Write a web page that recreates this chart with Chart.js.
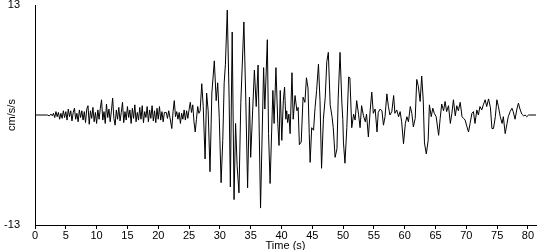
<!DOCTYPE html>
<html>
<head>
<meta charset="utf-8">
<script src="https://cdn.jsdelivr.net/npm/chart.js@4"></script>
<style>
  html, body { margin: 0; padding: 0; background: #fff; }
  #wrap { width: 550px; height: 250px; }
</style>
</head>
<body>
<div id="wrap"><canvas id="trace" width="550" height="250"></canvas></div>
<script>
// accelerogram (s, cm/s/s)
const times = [
  0, 2.0, 2.3, 2.6, 2.8,
  3.0, 3.2, 3.4, 3.6, 3.8, 4.0, 4.2, 4.4, 4.6, 4.8, 5.0,
  5.2, 5.4, 5.6, 5.8, 6.0, 6.2, 6.4, 6.6, 6.8, 7.0,
  7.2, 7.4, 7.6, 7.8, 8.0, 8.2, 8.4, 8.6, 8.8, 9.0,
  9.2, 9.4, 9.6, 9.8, 10.0, 10.2, 10.4, 10.6, 10.8, 11.0,
  11.2, 11.4, 11.6, 11.8, 12.0, 12.2, 12.4, 12.6, 12.8, 13.0,
  13.2, 13.4, 13.6, 13.8, 14.0, 14.2, 14.4, 14.6, 14.8, 15.0,
  15.2, 15.4, 15.6, 15.8, 16.0, 16.2, 16.4, 16.6, 16.8, 17.0,
  17.2, 17.4, 17.6, 17.8, 18.0, 18.2, 18.4, 18.6, 18.8, 19.0,
  19.2, 19.4, 19.6, 19.8, 20.0, 20.2, 20.4, 20.6, 20.8, 21.0,
  21.3, 21.5, 21.7, 21.9, 22.2, 22.4, 22.6, 22.8, 23.0, 23.2,
  23.4, 23.6, 23.8, 24.0, 24.2, 24.4, 24.6, 24.8, 25.0, 25.2,
  25.4, 25.6, 25.8, 26.0, 26.2, 26.4, 26.6, 26.8,
  27.06, 27.3, 27.6, 27.85, 28.1, 28.4, 28.7, 29.1, 29.4, 29.65,
  29.9, 30.2, 30.47, 30.7, 30.9, 31.2, 31.5, 31.7, 32.0, 32.3,
  32.55, 32.8, 33.1, 33.4, 33.9, 34.2, 34.5, 34.8, 35.0, 35.6,
  35.9, 36.2, 36.6, 37.1, 37.3, 37.7, 37.9, 38.15, 38.4, 38.6,
  38.8, 39.1, 39.4, 39.6, 39.8, 40.05, 40.3, 40.5, 40.7, 40.85,
  41.0, 41.2, 41.4, 41.7, 41.9, 42.2, 42.5, 42.7, 42.9, 43.2,
  43.5, 43.8, 44.05, 44.3, 44.5, 44.65, 44.9, 45.2, 45.45, 45.7,
  46.0, 46.25, 46.5, 46.8, 47.1, 47.35, 47.6, 47.9, 48.2, 48.4,
  48.7, 49.0, 49.2, 49.5, 49.8, 49.95, 50.05, 50.3, 50.6, 50.9,
  51.1, 51.4, 51.7, 51.95, 52.2, 52.5, 52.75, 53.0, 53.3, 53.6,
  53.8, 54.1, 54.4, 54.65, 54.9, 55.2, 55.5, 55.7, 56.0, 56.3,
  56.55, 56.8, 57.1, 57.35, 57.6, 57.9, 58.2, 58.4, 58.7, 59.0,
  59.25, 59.5, 59.8, 60.1, 60.35, 60.6, 60.9, 61.15, 61.4, 61.7,
  61.95, 62.2, 62.5, 62.75, 63.0, 63.2, 63.5, 63.8, 64.0, 64.3,
  64.55, 64.8, 65.1, 65.5, 65.75, 66.0, 66.3, 66.55, 66.8, 67.1,
  67.4, 67.65, 67.9, 68.2, 68.45, 68.7, 69.0, 69.3, 69.55, 69.8,
  70.1, 70.35, 70.6, 70.9, 71.15, 71.4, 71.7, 71.95, 72.2, 72.5,
  72.75, 73.05, 73.3, 73.6, 73.9, 74.15, 74.4, 74.7, 74.95, 75.2,
  75.5, 75.8, 76.0, 76.3, 76.6, 76.8, 77.1, 77.4, 77.6, 77.9,
  78.2, 78.45, 78.7, 79.0, 79.3, 79.55, 79.8, 80.1, 81.3
];

const accel = [
  0, 0, -0.1, 0.1, -0.1,
  0.2, -0.3, 0.4, -0.2, 0.3, -0.5, 0.2, -0.4, 0.5, -0.3, 0.4,
  -0.6, 0.7, -0.2, 0.5, -0.7, 0.3, 0.8, -0.5, 0.2, -0.8,
  0.6, -0.3, 0.5, -0.6, 0.4, -0.9, 0.7, 1.1, -1.1, 0.5,
  -0.4, 0.9, -0.8, 0.3, -1.0, 0.6, -0.5, 0.8, 1.8, -0.6,
  0.4, -1.0, 1.3, -0.3, 0.7, -0.8, 0.5, 2.0, -0.4, -1.2,
  0.6, -0.5, 0.9, -0.7, 0.3, 1.5, -0.9, 0.4, -0.6, 1.0,
  -0.3, 0.6, -1.0, 0.8, -0.4, 1.2, -0.8, 0.3, -0.6, 0.9,
  -0.5, 1.1, -0.9, 0.4, -0.3, 1.0, -0.8, 0.6, -0.4, 1.1,
  -0.7, 0.5, -0.9, 0.8, -0.5, 1.0, -0.6, 0.4, -0.8, 0.3,
  0.3, -0.4, 0.5, -0.3, -1.6, 0.4, 1.7, -0.2, 0.4, -0.5,
  0.3, -1.0, 0.2, -0.5, 0.6, -0.6, 0.5, -0.4, 0.6, 1.5,
  0.3, 1.2, -0.8, -2.0, -0.5, 1.0, 0.2, 0.5,
  3.7, 1.0, -5.2, 2.6, 0.5, -6.7, 2.6, 6.4, 1.7, 3.8,
  -0.3, -8.0, -3.0, 3.8, 6.0, 12.4, 2.0, -8.5, 9.8, -10.0,
  -1.0, -6.0, -9.2, 1.5, 11.0, 2.0, -8.6, 2.1, -5.0, 5.3,
  1.0, 5.9, -11.0, 5.6, 0.7, 8.9, -2.2, -8.1, -2.0, 2.9,
  -1.0, 5.6, -1.0, -3.6, 2.9, -3.0, 1.7, 3.3, -0.5, 0.5,
  -0.9, 0.1, -2.2, 5.0, -0.5, 2.3, 0.5, 0.9, -3.5, -3.2,
  2.1, 1.5, 4.4, 3.2, -2.2, -5.6, -1.5, -1.8, 0.9, 2.9,
  6.0, 1.7, -6.3, -0.5, 2.1, 6.3, 7.4, 1.2, -0.2, -1.5,
  -5.0, -4.0, 2.0, 7.4, 1.4, -0.5, -3.2, -5.7, -1.5, 4.5,
  4.4, -1.5, 0.1, -0.6, 1.7, 0.1, -1.5, 1.1, -0.1, -0.8,
  0.1, -2.6, 0.6, 2.7, 0.2, 0.7, -2.0, 0.3, 0.7, 0.5,
  -1.2, -0.2, 2.5, 1.0, 0.0, 0.4, 2.3, 0.2, 0.6, -0.2,
  0.4, -0.8, -3.4, -1.0, -0.2, -0.8, 1.0, 0.2, -1.4, -0.4,
  4.2, 3.4, 1.6, 4.6, 1.8, -3.3, -4.6, -3.0, 1.2, -0.2,
  0.8, 0.2, -0.2, -2.4, -0.4, 1.3, 0.5, 1.6, 0.4, 1.1,
  -1.0, 0.2, 1.8, -0.1, 1.1, 0.5, 1.5, -0.2, -0.4, -0.6,
  -1.4, -2.0, -1.0, 0.2, 0.4, -1.0, 0.6, 0.0, 1.0, 0.6,
  1.2, 1.8, 1.0, 1.9, 0.9, -1.6, -1.6, -0.2, 1.8, 1.0,
  -0.2, -1.0, -0.2, -2.2, -1.0, -0.2, 0.4, 0.8, 0.4, -0.5,
  0.7, 1.4, 0.7, 0.1, -0.1, 0.0, -0.2, 0.0, 0.0
];

const xTicks = [0, 5, 10, 15, 20, 25, 30, 35, 40, 45, 50, 55, 60, 65, 70, 75, 80];
const yTicks = [-13, 13];

const points = times.map((t, i) => ({ x: t, y: accel[i] }));
const font = { family: "'Liberation Sans', Arial, sans-serif", size: 11 };

new Chart(document.getElementById("trace"), {
  type: "line",
  data: {
    datasets: [{
      data: points,
      borderColor: "#000",
      borderWidth: 1,
      pointRadius: 0,
      tension: 0,
      fill: false,
    }],
  },
  options: {
    responsive: false,
    animation: false,
    layout: { padding: { top: 5, right: 14, left: 0, bottom: 0 } },
    plugins: { legend: { display: false }, tooltip: { enabled: false } },
    scales: {
      x: {
        type: "linear",
        min: 0,
        max: 81.3,
        afterBuildTicks: (s) => { s.ticks = xTicks.map((v) => ({ value: v })); },
        afterFit: (s) => { s.height = 25; },
        grid: { drawOnChartArea: false, drawTicks: true, tickLength: 4, color: "#000" },
        border: { color: "#000", width: 1 },
        ticks: { color: "#000", font, padding: 0, maxRotation: 0, autoSkip: false },
        title: {
          display: true, text: "Time (s)", color: "#000",
          font: { ...font, lineHeight: 1 }, padding: { top: 0, bottom: -1 },
        },
      },
      y: {
        min: -13,
        max: 13,
        afterBuildTicks: (s) => { s.ticks = yTicks.map((v) => ({ value: v })); },
        afterFit: (s) => { s.width = 35; s.paddingTop = 0; s.paddingBottom = 0; },
        grid: { drawOnChartArea: false, drawTicks: false },
        border: { color: "#000", width: 1 },
        ticks: { color: "#000", font, padding: 15 },
        title: { display: true, text: "cm/s/s", color: "#000", font, padding: { top: 5, bottom: 0 } },
      },
    },
  },
});
</script>
</body>
</html>
